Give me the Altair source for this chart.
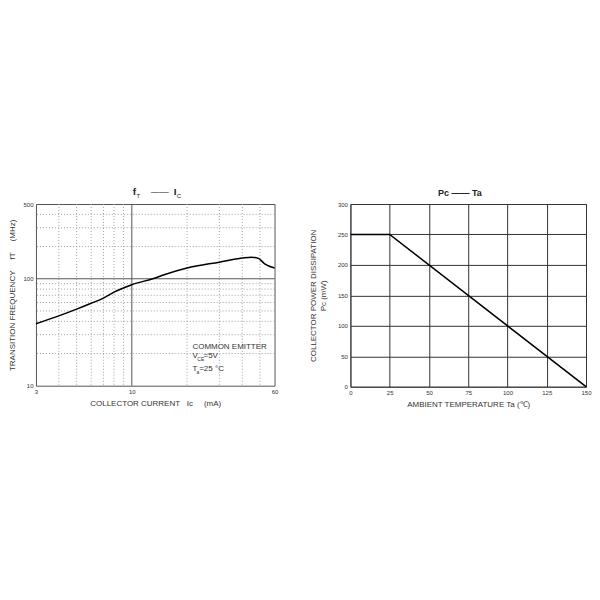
import altair as alt
import pandas as pd

# ---------------- data ----------------
# Left panel: transition frequency vs collector current (log-log)
ic_ma = [3, 4, 5, 6, 7, 8, 9, 10, 13, 15, 20, 30, 40, 45, 49, 53, 60]
ft_mhz = [38, 45, 52, 59, 66, 75, 82, 88, 100, 109, 126, 143, 156, 159, 155, 138, 126]

minor_x = [4, 5, 6, 7, 8, 9, 20, 30, 40, 50]
minor_y = [20, 30, 40, 50, 60, 70, 80, 90, 200, 300, 400]
major_x = [10]
major_y = [100]
left_x_ticks = [3, 10, 60]
left_y_ticks = [10, 100, 500]

# Right panel: power dissipation vs ambient temperature
ta_c = [0, 25, 150]
pc_mw = [250, 250, 0]
right_x_ticks = [0, 25, 50, 75, 100, 125, 150]
right_y_ticks = [0, 50, 100, 150, 200, 250, 300]

# Text annotations (in data units)
title_main_text = ["f", "I"]
title_main_x = [10.33, 17.2]
title_main_y = [647, 647]
title_sub_text = ["T", "C"]
title_sub_x = [10.86, 18.08]
title_sub_y = [594, 594]
title_dash_text = ["——"]
title_dash_x = [14.19]
title_dash_y = [647]

note_text = ["COMMON EMITTER", "V", "CE", "=5V", "T", "a", "=25 °C"]
note_x = [21.4, 21.4, 22.75, 24.6, 21.4, 22.55, 23.3]
note_y = [23.1, 19.1, 17.6, 19.1, 14.4, 13.3, 14.4]
note_size = [8, 8, 5, 8, 8, 5, 8]

right_title_text = ["Pc —— Ta"]
right_title_x = [69.7]
right_title_y = [318]

NB = "\u00a0"
left_x_title = "COLLECTOR CURRENT" + NB * 3 + "Ic" + NB * 5 + "(mA)"
left_y_title = "TRANSITION FREQUENCY" + NB * 5 + "fT" + NB * 5 + "(MHz)"

FONT = "Liberation Sans"
TXT = "#333333"

# ---------------- left panel ----------------
xs = alt.Scale(type="log", domain=[3, 60], nice=False)
ys = alt.Scale(type="log", domain=[10, 500], nice=False)

x_axis_left = alt.Axis(
    values=left_x_ticks, format="d", labelFontSize=6, labelColor=TXT,
    labelFlush=False, labelOverlap=False, ticks=False, grid=False, domain=False,
    labelPadding=3, title=left_x_title, titleFontSize=8,
    titleFontWeight="normal", titleColor=TXT, titlePadding=5)
y_axis_left = alt.Axis(
    values=left_y_ticks, format="d", labelFontSize=6, labelColor=TXT,
    labelOverlap=False, ticks=False, grid=False, domain=False, labelPadding=3,
    title=left_y_title, titleFontSize=8,
    titleFontWeight="normal", titleColor=TXT, titlePadding=6)


def X(field):
    return alt.X(field, scale=xs, axis=x_axis_left)


def Y(field):
    return alt.Y(field, scale=ys, axis=y_axis_left)


curve_df = pd.DataFrame({"ic": ic_ma, "ft": ft_mhz})

minor_x_rules = alt.Chart(pd.DataFrame({"v": minor_x})).mark_rule(
    color="#a0a0a0", strokeDash=[1, 2], strokeWidth=1
).encode(x=X("v:Q"))
minor_y_rules = alt.Chart(pd.DataFrame({"v": minor_y})).mark_rule(
    color="#a0a0a0", strokeDash=[1, 2], strokeWidth=1
).encode(y=Y("v:Q"))
major_x_rules = alt.Chart(pd.DataFrame({"v": major_x})).mark_rule(
    color="#555555", strokeWidth=1
).encode(x=X("v:Q"))
major_y_rules = alt.Chart(pd.DataFrame({"v": major_y})).mark_rule(
    color="#555555", strokeWidth=1
).encode(y=Y("v:Q"))

curve = alt.Chart(curve_df).mark_line(
    color="black", strokeWidth=1.5, interpolate="monotone"
).encode(x=X("ic:Q"), y=Y("ft:Q"))

t_main = alt.Chart(pd.DataFrame({"t": title_main_text, "x": title_main_x, "y": title_main_y})).mark_text(
    font=FONT, fontSize=10, fontWeight="bold", color="#222", align="center", baseline="middle"
).encode(x=X("x:Q"), y=Y("y:Q"), text="t:N")
t_sub = alt.Chart(pd.DataFrame({"t": title_sub_text, "x": title_sub_x, "y": title_sub_y})).mark_text(
    font=FONT, fontSize=6, color="#222", align="center", baseline="middle"
).encode(x=X("x:Q"), y=Y("y:Q"), text="t:N")
t_dash = alt.Chart(pd.DataFrame({"t": title_dash_text, "x": title_dash_x, "y": title_dash_y})).mark_text(
    font=FONT, fontSize=9, color="#222", align="center", baseline="middle"
).encode(x=X("x:Q"), y=Y("y:Q"), text="t:N")
notes = alt.Chart(pd.DataFrame({"t": note_text, "x": note_x, "y": note_y, "s": note_size})).mark_text(
    font=FONT, color=TXT, align="left", baseline="middle"
).encode(x=X("x:Q"), y=Y("y:Q"), text="t:N",
         size=alt.Size("s:Q", scale=None, legend=None))

left = alt.layer(
    minor_x_rules, minor_y_rules, major_x_rules, major_y_rules, curve,
    t_main, t_sub, t_dash, notes
).properties(width=239, height=182)

# ---------------- right panel ----------------
xr = alt.Scale(domain=[0, 150], nice=False)
yr = alt.Scale(domain=[0, 300], nice=False)

x_axis_right = alt.Axis(
    values=right_x_ticks, labelFontSize=6, labelColor=TXT, labelFlush=False,
    labelOverlap=False, ticks=False, domain=False, grid=True, gridColor="#333333",
    gridWidth=1, labelPadding=3, title="AMBIENT TEMPERATURE Ta (℃)", titleFontSize=8,
    titleFontWeight="normal", titleColor=TXT, titlePadding=5)
y_axis_right = alt.Axis(
    values=right_y_ticks, labelFontSize=6, labelColor=TXT, labelOverlap=False,
    ticks=False, domain=False, grid=True, gridColor="#333333", gridWidth=1,
    labelPadding=3, title=["COLLECTOR POWER DISSIPATION", "Pc (mW)"], titleFontSize=8,
    titleFontWeight="normal", titleColor=TXT, titlePadding=10)

pc_df = pd.DataFrame({"ta": ta_c, "pc": pc_mw})
pc_line = alt.Chart(pc_df).mark_line(color="black", strokeWidth=1.5).encode(
    x=alt.X("ta:Q", scale=xr, axis=x_axis_right),
    y=alt.Y("pc:Q", scale=yr, axis=y_axis_right),
)
r_title = alt.Chart(pd.DataFrame({"t": right_title_text, "x": right_title_x, "y": right_title_y})).mark_text(
    font=FONT, fontSize=9, fontWeight="bold", color="#222", align="center", baseline="middle"
).encode(x=alt.X("x:Q", scale=xr, axis=x_axis_right),
         y=alt.Y("y:Q", scale=yr, axis=y_axis_right), text="t:N")

right = alt.layer(pc_line, r_title).properties(width=236, height=183)

chart = alt.hconcat(left, right, spacing=30).properties(
    padding={"left": 0, "top": 178, "right": 0, "bottom": 0}
).configure(font=FONT).configure_view(stroke="#555555", strokeWidth=1)

chart.save("out.html", embed_options={"renderer": "svg", "actions": False})
